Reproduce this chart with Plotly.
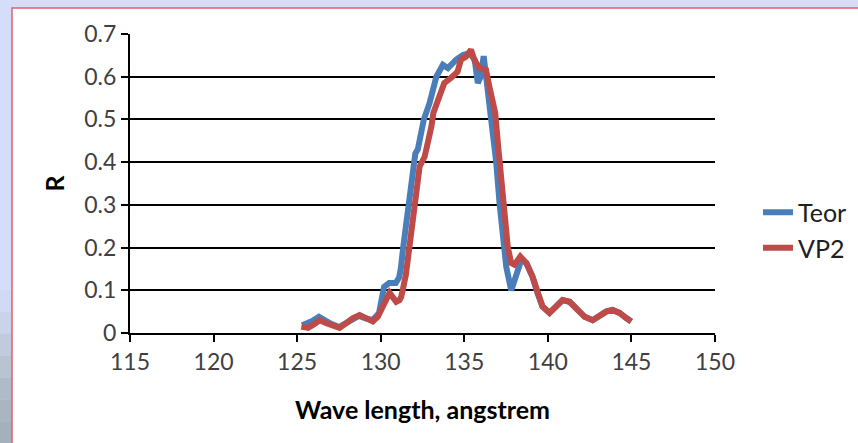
import plotly.graph_objects as go

# ---- data ----
teor_x = [125.3, 125.6, 125.9, 126.3, 126.6, 127.0, 127.5, 127.9, 128.3, 128.7, 129.1, 129.5, 129.9,
          130.2, 130.5, 130.9, 131.1, 131.2, 131.35, 131.55, 131.72, 131.93, 132.07, 132.22, 132.43,
          132.58, 132.92, 133.33, 133.72, 134.02, 134.52, 134.92, 135.32, 135.62, 135.81, 135.98,
          136.16, 136.32, 136.5, 136.69, 136.91, 137.11, 137.31, 137.51, 137.81, 138.07, 138.41,
          138.71, 139.08, 139.38, 139.68, 140.10, 140.50, 140.88, 141.30, 141.70, 142.20, 142.68,
          143.10, 143.49, 143.87, 144.29, 144.69, 144.99]
teor_y = [0.018, 0.022, 0.028, 0.038, 0.030, 0.022, 0.014, 0.022, 0.032, 0.040, 0.034, 0.030, 0.047,
          0.108, 0.117, 0.117, 0.130, 0.150, 0.202, 0.265, 0.328, 0.382, 0.420, 0.430, 0.468,
          0.500, 0.538, 0.600, 0.628, 0.620, 0.640, 0.651, 0.655, 0.640, 0.585, 0.600,
          0.648, 0.600, 0.530, 0.468, 0.400, 0.304, 0.218, 0.155, 0.100, 0.130, 0.171,
          0.164, 0.132, 0.093, 0.062, 0.047, 0.062, 0.077, 0.073, 0.058, 0.038, 0.030,
          0.042, 0.050, 0.054, 0.047, 0.035, 0.027]

vp2_x = [125.25, 125.65, 125.95, 126.35, 126.75, 127.14, 127.54, 127.94, 128.34, 128.74, 129.14,
         129.53, 129.83, 130.23, 130.53, 130.93, 131.13, 131.23, 131.5, 131.72, 131.93, 132.13,
         132.33, 132.63, 132.83, 133.03, 133.15, 133.5, 133.8, 134.2, 134.6, 134.8, 135.1, 135.4,
         135.6, 135.9, 136.3, 136.5, 136.85, 137.03, 137.2, 137.4, 137.6, 137.8, 138.0, 138.35,
         138.71, 139.08, 139.38, 139.68, 140.10, 140.50, 140.88, 141.30, 141.70, 142.20, 142.68,
         143.10, 143.49, 143.87, 144.29, 144.69, 144.99]
vp2_y = [0.015, 0.012, 0.019, 0.030, 0.023, 0.019, 0.012, 0.023, 0.035, 0.042, 0.035,
         0.027, 0.038, 0.070, 0.094, 0.073, 0.077, 0.085, 0.135, 0.202, 0.265, 0.343,
         0.390, 0.413, 0.444, 0.483, 0.515, 0.553, 0.585, 0.597, 0.612, 0.640, 0.647, 0.663,
         0.640, 0.620, 0.616, 0.577, 0.515, 0.436, 0.358, 0.281, 0.202, 0.164, 0.160, 0.179,
         0.164, 0.132, 0.093, 0.062, 0.047, 0.062, 0.077, 0.073, 0.058, 0.038, 0.030,
         0.042, 0.050, 0.054, 0.047, 0.035, 0.027]

series_names = ["Teor", "VP2"]
series_colors = ["#4a7ebb", "#be4b48"]

W, H = 858, 443
L, R, T, B = 130, 143, 34, 110
pw, ph = W - L - R, H - T - B


def px2x(p):
    return (p - L) / pw


def py2y(p):
    return (H - B - p) / ph


fig = go.Figure()
fig.add_trace(go.Scatter(x=teor_x, y=teor_y, name=series_names[0], mode="lines",
                         line=dict(color=series_colors[0], width=6)))
fig.add_trace(go.Scatter(x=vp2_x, y=vp2_y, name=series_names[1], mode="lines",
                         line=dict(color=series_colors[1], width=6)))

shapes = []
# left-bottom gradient strip
bands = ["#d0daf4", "#c9d3ea", "#c1cbde", "#b9c3d2", "#b1bbc8", "#aab5c0", "#a5b0ba"]
y0 = 290
step = (H - y0) / len(bands)
for i, c in enumerate(bands):
    shapes.append(dict(type="rect", xref="paper", yref="paper", layer="below",
                       x0=px2x(0), x1=px2x(12), y0=py2y(y0 + (i + 1) * step), y1=py2y(y0 + i * step),
                       fillcolor=c, line=dict(width=0)))
# white panel with red border
shapes.append(dict(type="rect", xref="paper", yref="paper", layer="below",
                   x0=px2x(12), x1=px2x(W + 5), y0=py2y(H + 5), y1=py2y(8),
                   fillcolor="white", line=dict(color="#e0606c", width=1.5)))

fig.update_layout(
    width=W, height=H,
    margin=dict(l=L, r=R, t=T, b=B, autoexpand=False),
    paper_bgcolor="#d4defa",
    plot_bgcolor="rgba(0,0,0,0)",
    shapes=shapes,
    font=dict(family="Lato", size=23, color="#404040"),
    showlegend=True,
    legend=dict(x=px2x(758), y=py2y(230), xanchor="left", yanchor="middle",
                font=dict(size=25, color="#202020"), bgcolor="rgba(0,0,0,0)",
                tracegroupgap=0, itemwidth=30),
    xaxis=dict(range=[115, 150], dtick=5, tick0=115, showgrid=False, zeroline=False,
               showline=True, linecolor="black", linewidth=2,
               ticks="outside", ticklen=7, tickwidth=2, tickcolor="black",
               title=dict(text="<b>Wave length, angstrem</b>", font=dict(size=25, color="black"),
                          standoff=28)),
    yaxis=dict(range=[0, 0.7], dtick=0.1, tickformat=".1f", showgrid=True, gridcolor="black",
               gridwidth=2, zeroline=False, showline=True, linecolor="black", linewidth=2,
               ticks="outside", ticklen=7, tickwidth=2, tickcolor="black",
               title=dict(text="<b>R</b>", font=dict(size=25, color="black"), standoff=13)),
)
fig.update_yaxes(tickvals=[0, 0.1, 0.2, 0.3, 0.4, 0.5, 0.6, 0.7],
                 ticktext=["0", "0.1", "0.2", "0.3", "0.4", "0.5", "0.6", "0.7"])

fig.write_html("out.html")
